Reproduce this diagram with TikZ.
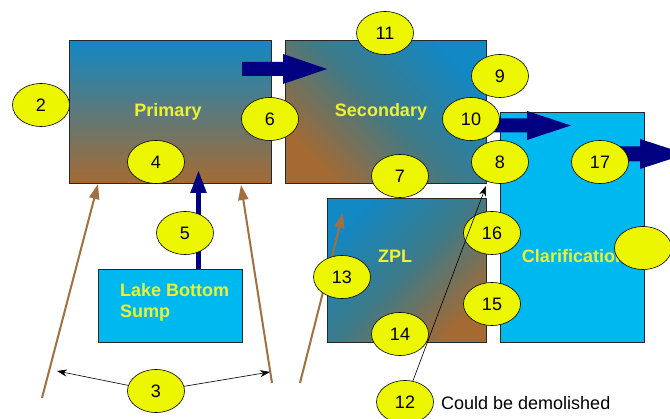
\documentclass[tikz,border=0pt]{standalone}
\usepackage{fontspec}
\setmainfont{Liberation Sans}
\usetikzlibrary{shapes.geometric,arrows.meta}

\definecolor{gblue}{RGB}{18,136,196}
\definecolor{gteal}{RGB}{62,122,136}
\definecolor{gbrown}{RGB}{165,106,50}
\definecolor{skyblue}{RGB}{0,184,240}
\definecolor{flowblue}{RGB}{0,0,128}
\definecolor{pipebrown}{RGB}{160,112,64}
\definecolor{tagyellow}{RGB}{236,246,0}
\definecolor{labelyellow}{RGB}{240,240,50}
\definecolor{edgegrey}{RGB}{40,40,40}

% block arrow: start x, centre y, head start x, tip x, shaft half height, head half height
\newcommand\blockarrow[6]{%
  \fill[flowblue] (#1,#2-#5) -- (#3,#2-#5) -- (#3,#2-#6) -- (#4,#2)
    -- (#3,#2+#6) -- (#3,#2+#5) -- (#1,#2+#5) -- cycle;}

\tikzset{
  basin/.style={draw=edgegrey, line width=0.6pt, inner sep=0pt, anchor=north west},
  boxlabel/.style={text=labelyellow, font=\fontsize{18}{21}\selectfont\bfseries, inner sep=0pt},
  tag/.style={ellipse, draw=black, line width=0.6pt, fill=tagyellow,
    minimum width=57pt, minimum height=43pt, inner sep=0pt,
    font=\fontsize{18}{21}\selectfont},
  brownarrow/.style={draw=pipebrown, line width=2pt, -{Triangle[length=15pt,width=10pt]}},
  thinarrow/.style={draw=black, line width=0.6pt, -{Stealth[length=10pt,width=7pt]}},
  riser/.style={draw=flowblue, line width=5pt, -{Triangle[length=23pt,width=15pt]}}
}

\begin{document}
\begin{tikzpicture}[x=1pt,y=-1pt]
\useasboundingbox (0,0) rectangle (670,419);
\clip (0,0) rectangle (670,419);
\fill[white] (0,0) rectangle (670,419);

% basins
\node[basin, minimum width=202pt, minimum height=143pt,
      top color=gblue, bottom color=gbrown] (primary) at (69,40) {};
\node[basin, minimum width=201pt, minimum height=143pt,
      top color=gblue, bottom color=gbrown, middle color=gteal, shading angle=-45] (secondary) at (285,40) {};
\node[basin, minimum width=159pt, minimum height=144pt,
      top color=gblue, bottom color=gbrown, middle color=gteal, shading angle=45] (zpl) at (327,198) {};
\node[basin, minimum width=144pt, minimum height=230pt, fill=skyblue] (clar) at (500,112) {};
\node[basin, minimum width=144pt, minimum height=73pt, fill=skyblue] (sump) at (98,269) {};

\node[boxlabel] (lprimary) at (168,112) {Primary};
\node[boxlabel] (lsecondary) at (381,112) {Secondary};
\node[boxlabel] (lzpl) at (395,256) {ZPL};
\node[boxlabel] (lclar) at (574,256) {Clarification};
\node[boxlabel, anchor=west, align=left] (lsump) at (120,302.5) {Lake Bottom\\Sump};

% flow arrows
\blockarrow{242}{69}{283}{327}{7}{15}
\blockarrow{493}{125.5}{527}{571}{7}{14.5}
\blockarrow{620}{154}{640}{686}{7.5}{15}

\coordinate (risetop) at (198.5,170);
\draw[riser] (sump.north -| risetop) -- (risetop);

% brown pipes
\coordinate (p1s) at (42,398);  \coordinate (p1e) at (98,184);
\coordinate (p2s) at (272,383); \coordinate (p2e) at (241,185);
\coordinate (p3s) at (300,383); \coordinate (p3e) at (343,213);
\draw[brownarrow] (p1s) -- (p1e);
\draw[brownarrow] (p2s) -- (p2e);
\draw[brownarrow] (p3s) -- (p3e);

% numbered tags
\node[tag] (e2)  at (41,105)  {2};
\node[tag] (e6)  at (270,119) {6};
\node[tag] (e4)  at (156,162) {4};
\node[tag] (e11) at (385,33)  {11};
\node[tag] (e9)  at (500,76)  {9};
\node[tag] (e10) at (471,119) {10};
\node[tag] (e8)  at (500,162) {8};
\node[tag] (e17) at (600,162) {17};
\node[tag] (e7)  at (400,176) {7};
\node[tag] (e5)  at (185,233) {5};
\node[tag] (e16) at (492,233) {16};
\node[tag] (ec)  at (643,248) {};
\node[tag] (e13) at (342,277) {13};
\node[tag] (e15) at (492,304) {15};
\node[tag] (e14) at (400,334) {14};
\node[tag] (e3)  at (156,391) {3};
\node[tag] (e12) at (405,402) {12};

% pointers
\coordinate (t3l) at (57,371);
\coordinate (t3r) at (270,372);
\coordinate (t12) at (486,186);
\draw[thinarrow] (e3) -- (t3l);
\draw[thinarrow] (e3) -- (t3r);
\draw[thinarrow] (e12) -- (t12);

\node[anchor=west, inner sep=0pt, font=\fontsize{18}{21}\selectfont] (note) at (441,403) {Could be demolished};
\end{tikzpicture}
\end{document}
